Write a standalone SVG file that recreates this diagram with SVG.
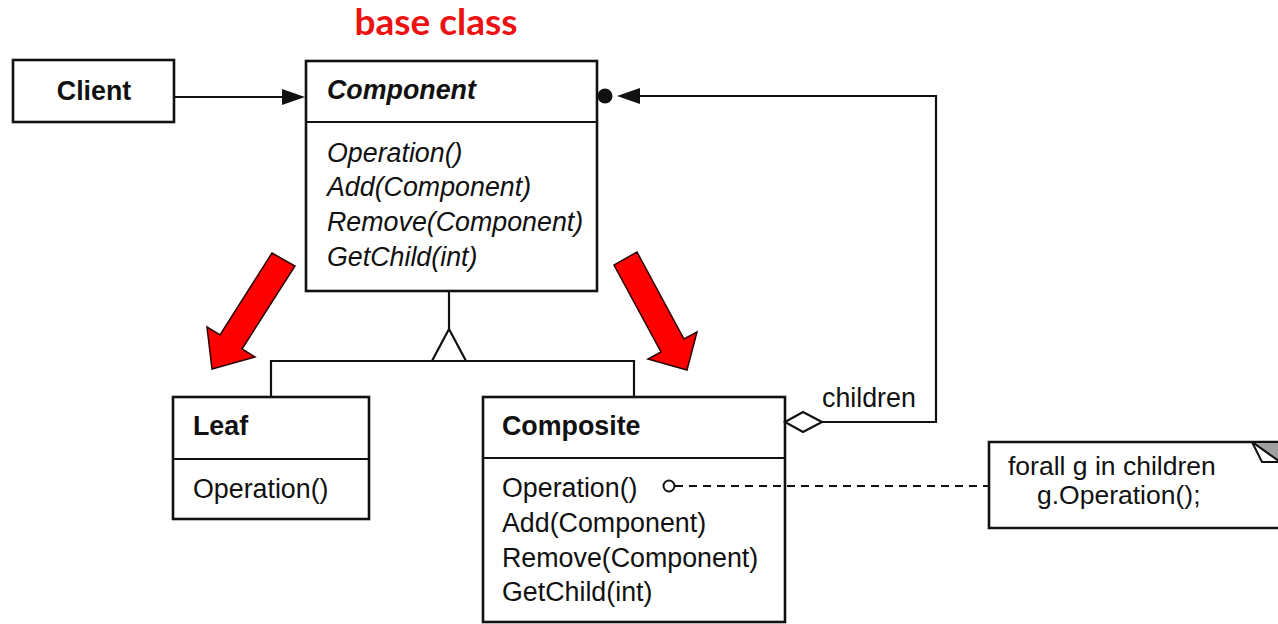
<svg xmlns="http://www.w3.org/2000/svg" width="1278" height="624" viewBox="0 0 1278 624">
<style>
.box{fill:#fff;stroke:#111;stroke-width:2.6}
.ln{fill:none;stroke:#111;stroke-width:2.2}
.t{font-family:"Liberation Sans",Arial,sans-serif;font-size:26.8px;fill:#111}
.b{font-weight:bold}
.i{font-style:italic}
.red{fill:#ff0000;stroke:#2a0000;stroke-width:1.5;stroke-linejoin:miter}
</style>
<rect width="1278" height="624" fill="#fff"/>
<text x="436" y="35" text-anchor="middle" style="font-family:Lato,'Open Sans',sans-serif;font-weight:bold;font-size:37px;fill:#ee1111">base class</text>

<g id="client">
  <rect class="box" x="13" y="60" width="161" height="62"/>
  <text class="t b" x="94" y="100" text-anchor="middle">Client</text>
</g>

<g id="component">
  <rect class="box" x="306" y="61" width="291" height="230"/>
  <line class="ln" x1="306" y1="122" x2="597" y2="122" stroke-width="2.6"/>
  <text class="t b i" x="327" y="99">Component</text>
  <text class="t i" x="327" y="162">Operation()</text>
  <text class="t i" x="327" y="196">Add(Component)</text>
  <text class="t i" x="327" y="231">Remove(Component)</text>
  <text class="t i" x="327" y="266">GetChild(int)</text>
</g>

<g id="leaf">
  <rect class="box" x="173" y="397" width="196" height="122"/>
  <line class="ln" x1="173" y1="459" x2="369" y2="459" stroke-width="2.6"/>
  <text class="t b" x="193" y="435">Leaf</text>
  <text class="t" x="193" y="498">Operation()</text>
</g>

<g id="composite">
  <rect class="box" x="483" y="397" width="302" height="225"/>
  <line class="ln" x1="483" y1="458" x2="785" y2="458" stroke-width="2.6"/>
  <text class="t b" x="502" y="435">Composite</text>
  <text class="t" x="502" y="497">Operation()</text>
  <text class="t" x="502" y="532">Add(Component)</text>
  <text class="t" x="502" y="567">Remove(Component)</text>
  <text class="t" x="502" y="601">GetChild(int)</text>
</g>

<g id="children-label">
  <text class="t" x="822" y="407">children</text>
</g>

<g id="note">
  <path class="box" d="M989,442 H1290 V528 H989 Z"/>
  <polygon points="1252,442 1280,442 1280,462" fill="#a0a0a0" stroke="#111" stroke-width="2"/>
  <polygon points="1252,442 1262,462 1280,462" fill="#fff" stroke="#111" stroke-width="2"/>
  <text class="t" x="1008" y="475" style="font-size:26.5px">forall g in children</text>
  <text class="t" x="1037" y="504" style="font-size:26.5px">g.Operation();</text>
</g>

<g id="connectors">
  <line class="ln" x1="174" y1="97" x2="284" y2="97"/>
  <polygon points="305,97 282,89 282,105" fill="#111"/>
  <polyline class="ln" points="449,291 449,329"/>
  <polygon points="449,329 432,361 466,361" fill="#fff" stroke="#111" stroke-width="2.2"/>
  <polyline class="ln" points="271,397 271,361 634,361 634,397"/>
  <polyline class="ln" points="822,422 936,422 936,96 638,96"/>
  <polygon points="617,96 640,88 640,104" fill="#111"/>
  <circle cx="605" cy="96" r="7.5" fill="#111"/>
  <polygon points="785,422 803,412 822,422 803,432" fill="#fff" stroke="#111" stroke-width="2.2"/>
  <line class="ln" x1="675" y1="486" x2="989" y2="486" stroke-dasharray="8,6" stroke-width="2.4"/>
  <circle cx="669" cy="486" r="5.5" fill="#fff" stroke="#111" stroke-width="2"/>
</g>

<g id="red-arrows">
  <polygon class="red" points="272,253 295,266 242,349 255,357 212,369 207,327 220,335"/>
  <polygon class="red" points="637,252 684,339 697,332 687,370 648,359 661,352 614,265"/>
</g>
</svg>
